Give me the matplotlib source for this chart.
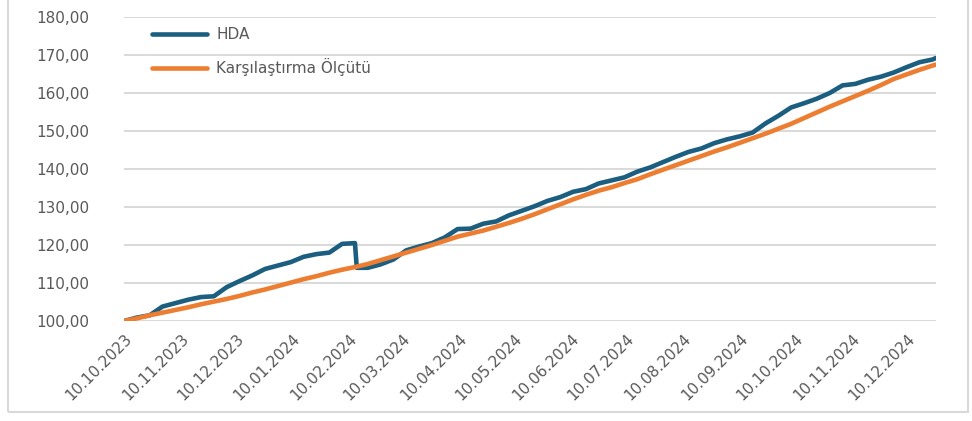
import numpy as np
import pandas as pd
import matplotlib
matplotlib.use("Agg")
import matplotlib.pyplot as plt
from matplotlib.ticker import FuncFormatter, MultipleLocator
from matplotlib.patches import Rectangle

# weekly observation dates (plus the day of the HDA drop and the last day)
dates = list(pd.date_range("2023-10-10", "2024-12-24", freq="7D"))
dates.insert(19, pd.Timestamp("2024-02-14"))
dates.append(pd.Timestamp("2024-12-26"))

hda = [100.0, 100.9, 101.5, 103.8, 104.7, 105.6, 106.3, 106.5, 108.9, 110.5,
       112.0, 113.7, 114.6, 115.5, 116.9, 117.6, 118.0, 120.3, 120.5, 114.0,
       114.0, 114.9, 116.2, 118.6, 119.6, 120.5, 122.0, 124.2, 124.3, 125.6,
       126.2, 127.8, 129.0, 130.2, 131.6, 132.6, 134.0, 134.7, 136.2, 137.0,
       137.8, 139.3, 140.4, 141.8, 143.2, 144.5, 145.4, 146.8, 147.8, 148.6,
       149.6, 152.0, 154.0, 156.2, 157.3, 158.5, 160.0, 162.0, 162.4, 163.5,
       164.3, 165.4, 166.8, 168.1, 168.8, 169.2]

benchmark = [100.0, 100.7, 101.5, 102.2, 102.9, 103.6, 104.4, 105.1, 105.8, 106.6,
             107.5, 108.3, 109.2, 110.1, 111.0, 111.8, 112.7, 113.5, 114.2, 114.3,
             115.0, 116.0, 117.0, 118.0, 119.0, 120.0, 121.1, 122.2, 123.0, 123.8,
             124.8, 125.8, 126.9, 128.1, 129.4, 130.7, 132.0, 133.2, 134.3, 135.2,
             136.3, 137.3, 138.6, 139.8, 141.0, 142.2, 143.4, 144.6, 145.7, 146.9,
             148.1, 149.3, 150.6, 151.9, 153.4, 154.9, 156.4, 157.8, 159.2, 160.6,
             162.1, 163.7, 164.9, 166.1, 167.2, 167.5]

tick_dates = [pd.Timestamp(2023, 10, 10) + pd.DateOffset(months=i) for i in range(15)]
tick_labels = [d.strftime("%d.%m.%Y") for d in tick_dates]

text_color = "#595959"
grid_color = "#D9D9D9"

fig = plt.figure(figsize=(9.72, 4.21), dpi=100)
ax = fig.add_axes([124 / 972, 1 - 321 / 421, (936 - 124) / 972, (321 - 17) / 421])

ax.plot(dates, hda, color="#1B5E80", lw=3.3, label="HDA", solid_capstyle="round")
ax.plot(dates, benchmark, color="#ED7D31", lw=3.3, label="Karşılaştırma Ölçütü",
        solid_capstyle="round")

ax.set_ylim(100, 180)
ax.set_xlim(dates[0], dates[-1])
ax.yaxis.set_major_locator(MultipleLocator(10))
ax.yaxis.set_major_formatter(FuncFormatter(lambda v, p: f"{v:.2f}".replace(".", ",")))
ax.grid(axis="y", color=grid_color, lw=1.4)
ax.set_axisbelow(True)
for s in ax.spines.values():
    s.set_visible(False)

ax.set_xticks(tick_dates)
ax.set_xticklabels(tick_labels, rotation=45, ha="right", va="top",
                   rotation_mode="anchor")
ax.tick_params(axis="both", length=0, colors=text_color, labelsize=11)
ax.tick_params(axis="y", pad=25)
ax.tick_params(axis="x", pad=7)

leg = fig.legend(loc="upper left", bbox_to_anchor=(152 / 972, 1 - 27 / 421),
                 frameon=False, fontsize=11, handlelength=3.6, handletextpad=0.6,
                 labelspacing=1.05, borderpad=0, borderaxespad=0)
for t in leg.get_texts():
    t.set_color(text_color)

# light outer frame of the chart
fig.patches.append(Rectangle((8 / 972, 9 / 421), 960 / 972, 1.2,
                             transform=fig.transFigure, fill=False,
                             edgecolor=grid_color, lw=1.5))

fig.savefig("out.png", dpi=100)
